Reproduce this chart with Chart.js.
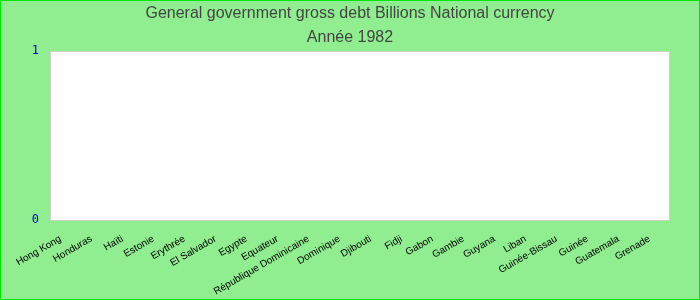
<!DOCTYPE html>
<html>
<head>
<meta charset="utf-8">
<script src="https://cdn.jsdelivr.net/npm/chart.js@4/dist/chart.umd.min.js"></script>
<style>
  html, body { margin: 0; padding: 0; background: #90ee90; }
  #wrap { width: 698px; height: 298px; border: 1px solid #00e600; position: relative; }
</style>
</head>
<body>
<div id="wrap"><canvas id="myChart"></canvas></div>
<script>
    // categories and values (everything is empty for 1982)
    const countries = ['Hong Kong', 'Honduras', 'Haïti', 'Estonie', 'Erythrée', 'El Salvador', 'Egypte', 'Equateur',
        'République Dominicaine', 'Dominique', 'Djibouti', 'Fidji', 'Gabon', 'Gambie', 'Guyana', 'Liban',
        'Guinée-Bissau', 'Guinée', 'Guatemala', 'Grenade'];
    const debt = [0, 0, 0, 0, 0, 0, 0, 0, 0, 0, 0, 0, 0, 0, 0, 0, 0, 0, 0, 0];
    const yTicks = [0, 1];
    const titleLines = ['General government gross debt Billions National currency', 'Année 1982'];

    const plotBg = {
        id: 'plotBg',
        beforeDraw(chart) {
            const a = chart.chartArea, c = chart.ctx;
            c.save();
            c.fillStyle = '#ffffff';
            c.fillRect(a.left, a.top, a.right - a.left, a.bottom - a.top);
            c.restore();
        },
        afterDraw(chart) {
            const a = chart.chartArea, c = chart.ctx;
            c.save();
            c.strokeStyle = '#d0d0d0';
            c.lineWidth = 1;
            c.strokeRect(a.left + 0.5, a.top + 0.5, a.right - a.left - 1, a.bottom - a.top);
            // title centred on the whole canvas
            c.fillStyle = '#444444';
            c.font = '16px "Liberation Sans"';
            c.textAlign = 'center';
            c.textBaseline = 'alphabetic';
            c.fillText(titleLines[0], chart.width / 2, 17);
            c.fillText(titleLines[1], chart.width / 2, 40.5);
            c.restore();
        }
    };

    var ctx = document.getElementById('myChart').getContext('2d');
    var chart = new Chart(ctx, {
        type: 'bar',
        data: {
            labels: countries,
            datasets: [{
                label: 'Debt',
                backgroundColor: '#3366cc',
                data: debt
            }]
        },
        options: {
            responsive: true,
            maintainAspectRatio: false,
            animation: false,
            layout: { padding: { left: 0, right: 29, top: 50, bottom: 0 } },
            plugins: {
                legend: { display: false },
                tooltip: { enabled: false },
                title: { display: false }
            },
            scales: {
                x: {
                    grid: { display: false, drawTicks: false },
                    border: { display: false },
                    afterFit: axis => { axis.height = 79; },
                    ticks: {
                        autoSkip: false,
                        maxRotation: 30,
                        minRotation: 30,
                        color: '#000000',
                        padding: 13,
                        labelOffset: -5,
                        font: { family: 'Liberation Sans', size: 10 }
                    }
                },
                y: {
                    min: yTicks[0],
                    max: yTicks[yTicks.length - 1],
                    grid: { display: false, drawTicks: false },
                    border: { display: false },
                    afterBuildTicks: axis => { axis.ticks = yTicks.map(v => ({ value: v })); },
                    afterFit: axis => { axis.width = 49; },
                    ticks: {
                        color: '#0000cc',
                        padding: 11,
                        font: { family: 'DejaVu Sans Mono', size: 12 }
                    }
                }
            }
        },
        plugins: [plotBg]
    });
</script>
</body>
</html>
